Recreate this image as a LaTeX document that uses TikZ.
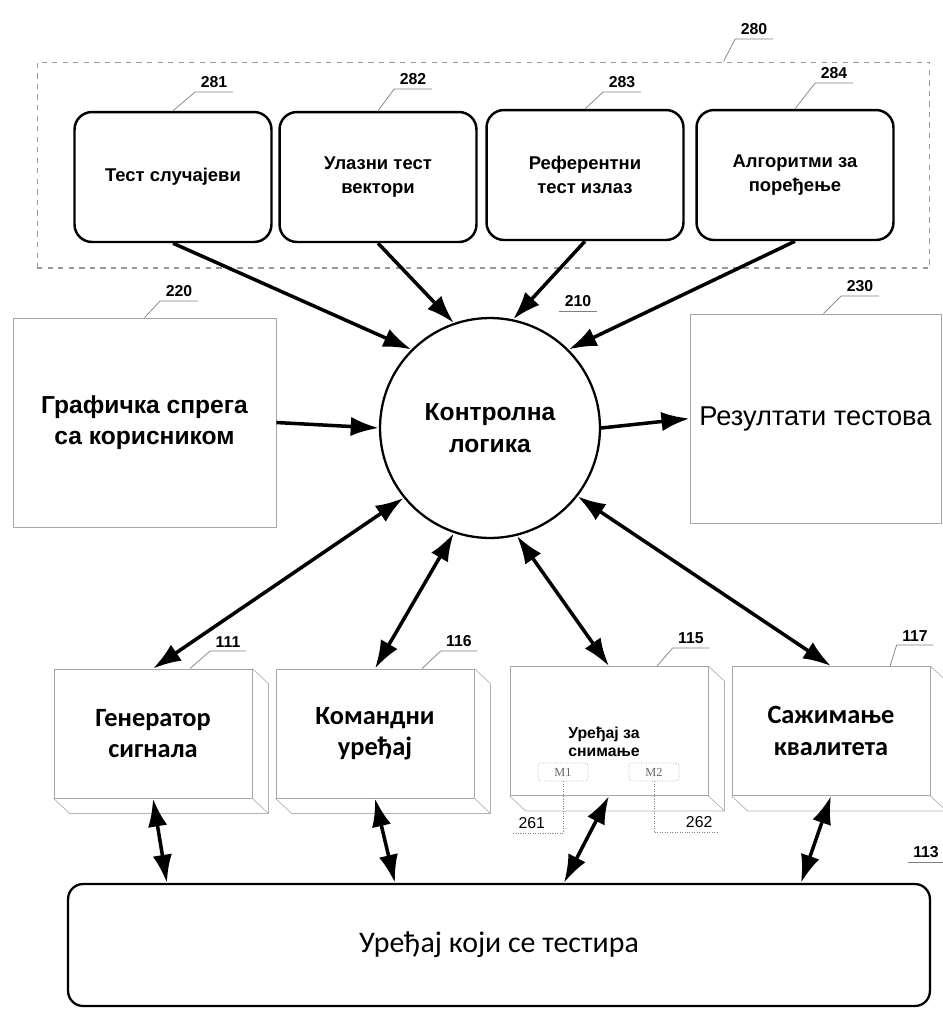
\documentclass[tikz,border=0pt]{standalone}
\usepackage{fontspec}
\setmainfont{Liberation Sans}
\newfontfamily\calfont{Carlito}
\newfontfamily\serfont{Liberation Serif}
\usetikzlibrary{calc}
\usetikzlibrary{arrows.meta}

\tikzset{
  topbox/.style={draw, line width=1.4pt, rounded corners=0.35cm, minimum width=3.94cm, minimum height=2.6cm, align=center, font=\bfseries\fontsize{10.5}{14}\selectfont},
  flatbox/.style={draw=gray!70, line width=0.5pt, minimum height=4.18cm, align=center},
  devbox/.style={draw=gray!70, line width=0.5pt, minimum width=3.96cm, minimum height=2.58cm, align=center, font=\calfont\bfseries\fontsize{15}{18}\selectfont},
  depth/.style={draw=gray!60, line width=0.4pt},
  membox/.style={draw=gray!70, densely dotted, rounded corners=1.5pt, minimum width=1cm, minimum height=0.36cm, inner sep=0pt, font=\serfont\fontsize{7}{8}\selectfont, text=gray!80!black},
  num/.style={font=\bfseries\fontsize{9}{10}\selectfont, inner xsep=3pt, inner ysep=2pt},
  lead/.style={gray, line width=0.4pt},
  big/.style={-{Latex[length=16pt,width=11pt]}, line width=2pt},
  both/.style={{Latex[length=16pt,width=11pt]}-{Latex[length=16pt,width=11pt]}, line width=2pt},
}

\begin{document}
\begin{tikzpicture}[x=0.02cm,y=-0.02cm]
\useasboundingbox (0,0) rectangle (943,1012);

% group of test data
\node[draw=gray!80, dashed, line width=0.6pt, minimum width=17.86cm, minimum height=4.12cm] (grp) at (483.5,165) {};

\node[topbox] (t281) at (173,177) {Тест случајеви};
\node[topbox] (t282) at (378,177) {Улазни тест\\вектори};
\node[topbox] (t283) at (585,175) {Референтни\\тест излаз};
\node[topbox] (t284) at (795,175) {Алгоритми за\\поређење};

% control logic
\node[draw, circle, line width=1.3pt, minimum size=4.4cm, align=center, font=\bfseries\fontsize{14}{18}\selectfont] (ctrl) at (490,428) {Контролна\\логика};

\node[flatbox, minimum width=5.26cm, font=\bfseries\fontsize{14}{18}\selectfont] (gui) at (144.5,422.5) {Графичка спрега\\са корисником};
\node[flatbox, minimum width=5.02cm, font=\fontsize{15.5}{18}\selectfont] (res) at (815.5,418.5) {Резултати тестова};

% devices
\node[devbox] (gen) at (153,733.5) {Генератор\\сигнала};
\node[devbox] (cmd) at (375,733.5) {Командни\\уређај};
\node[devbox] (rec) at (609,731) {};
\node[devbox] (qual) at (831,731) {Сажимање\\квалитета};
\foreach \b in {gen,cmd,rec,qual}{
  \draw[depth] (\b.north east) -- ++(16,15) -- ($(\b.south east)+(16,15)$) -- ($(\b.south west)+(16,15)$) -- (\b.south west);
  \draw[depth] (\b.south east) -- ++(16,15);
}
\node[align=center, font=\bfseries\fontsize{9}{10.5}\selectfont] (rectxt) at (604,742) {Уређај за\\снимање};
\node[membox] (m1) at (563,772) {M1};
\node[membox] (m2) at (654,772) {M2};

\node[draw, line width=1.3pt, rounded corners=0.3cm, minimum width=17.24cm, minimum height=2.44cm, font=\calfont\fontsize{17}{20}\selectfont] (dut) at (499,945) {Уређај који се тестира};

% arrows
\draw[big] (t281.south) -- (ctrl.135);
\draw[big] (t282.south) -- (ctrl.109);
\draw[big] (t283.south) -- (ctrl.78);
\draw[big] (t284.south) -- (ctrl.45);
\draw[big] (gui.east) -- (ctrl.west);
\draw[big] (ctrl.east) -- (res.west);

\draw[both] (ctrl.219) -- (gen.north);
\draw[both] (ctrl.251) -- (cmd.north);
\draw[both] (ctrl.284) -- (rec.north);
\draw[both] (ctrl.322) -- (qual.north);

\draw[both] (gen.south) -- ($(dut.north west)+(100,0)$);
\draw[both] (cmd.south) -- ($(dut.north west)+(328,0)$);
\draw[both] (rec.south) -- ($(dut.north west)+(497,0)$);
\draw[both] (qual.south) -- ($(dut.north west)+(734,0)$);

% reference numbers
\node[num, anchor=south] (n280) at (754,39) {280};
\node[num, anchor=south] (n281) at (214,92) {281};
\node[num, anchor=south] (n282) at (413,89) {282};
\node[num, anchor=south] (n283) at (622,92) {283};
\node[num, anchor=south] (n284) at (834,83) {284};
\node[num, anchor=south] (n210) at (578,311) {210};
\node[num, anchor=south] (n220) at (179,301) {220};
\node[num, anchor=south] (n230) at (860,296) {230};
\node[num, anchor=south] (n111) at (228,651) {111};
\node[num, anchor=south] (n116) at (459,651) {116};
\node[num, anchor=south] (n115) at (691,648) {115};
\node[num, anchor=south] (n117) at (915,645) {117};
\node[num, anchor=south] (n113) at (926,862) {113};
\node[num, anchor=south west, font=\fontsize{9}{10}\selectfont] (n261) at (513,833) {261};
\node[num, anchor=south east, font=\fontsize{9}{10}\selectfont] (n262) at (718,832) {262};

\draw[lead] ($(grp.north)+(240,0)$) -- (n280.south west) -- (n280.south east);
\draw[lead] (t281.north) -- (n281.south west) -- (n281.south east);
\draw[lead] (t282.north) -- (n282.south west) -- (n282.south east);
\draw[lead] (t283.north) -- (n283.south west) -- (n283.south east);
\draw[lead] (t284.north) -- (n284.south west) -- (n284.south east);
\draw[lead] (n210.south west) -- (n210.south east);
\draw[lead] (gui.north) -- (n220.south west) -- (n220.south east);
\draw[lead] ($(res.north)+(8,0)$) -- (n230.south west) -- (n230.south east);
\draw[lead] ($(gen.north)+(37,0)$) -- (n111.south west) -- (n111.south east);
\draw[lead] ($(cmd.north)+(47,0)$) -- (n116.south west) -- (n116.south east);
\draw[lead] ($(rec.north)+(48,0)$) -- (n115.south west) -- (n115.south east);
\draw[lead] ($(qual.north)+(59,0)$) -- (n117.south west) -- (n117.south east);
\draw[lead] (n113.south west) -- (n113.south east);
\draw[lead, densely dotted] (m1.south) |- (n261.south west);
\draw[lead, densely dotted] (m2.south) |- (n262.south east);

\end{tikzpicture}
\end{document}
